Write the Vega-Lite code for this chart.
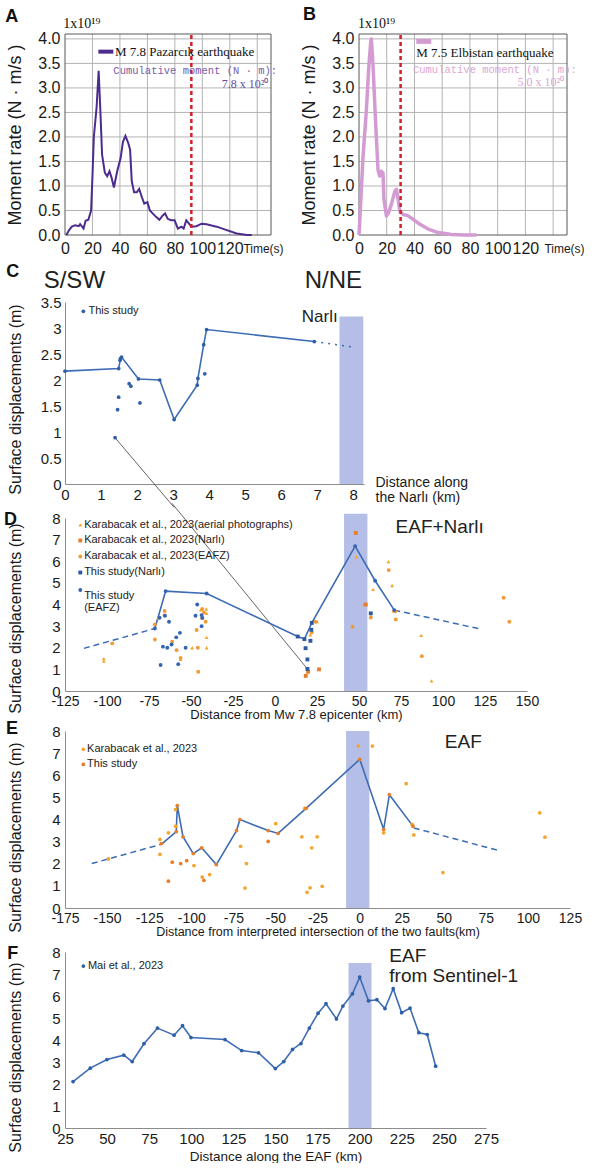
{
"$schema": "https://vega.github.io/schema/vega-lite/v6.json",
"background": "white",
"padding": {"left": 4, "top": 5, "right": 0, "bottom": 0},
"config": {
  "font": "Liberation Sans",
  "view": {"stroke": null},
  "axis": {"labelFont": "Liberation Sans", "titleFont": "Liberation Sans", "titleFontWeight": "normal", "labelColor": "#1a1a1a", "titleColor": "#1a1a1a", "domainColor": "#8c8c8c", "tickColor": "#8c8c8c", "ticks": false, "grid": false, "labelOverlap": false, "labelSeparation": -40, "labelFlush": false, "labelBound": false},
  "text": {"font": "Liberation Sans"}
},
"spacing": 6,
"vconcat": [
 {"hconcat": [
  {"width": 206, "height": 201,
   "encoding": {
     "x": {"field": "x", "type": "quantitative", "scale": {"domain": [0,150], "nice": false, "zero": false},
           "axis": {"values": [0,20,40,60,80,100,120], "labelOverlap": false, "labelSeparation": -40, "grid": false, "domain": false, "labelFontSize": 16, "labelPadding": 5, "title": "Time(s)", "titleFontSize": 12, "titleX": 198, "titleY": 13, "titleBaseline": "middle", "titleAlign": "center"}},
     "y": {"field": "y", "type": "quantitative", "scale": {"domain": [0,4.1], "nice": false},
           "axis": {"values": [0,0.5,1,1.5,2,2.5,3,3.5,4], "format": ".1f", "labelOverlap": false, "labelSeparation": -40, "grid": false, "domain": false, "labelFontSize": 16, "labelPadding": 5, "title": "Moment rate (N · m/s )", "titleFontSize": 18, "titleX": -41}}},
   "layer": [
    {"data": {"values": [{"x":20,"y":0,"y2":4.1},{"x":40,"y":0,"y2":4.1},{"x":60,"y":0,"y2":4.1},{"x":80,"y":0,"y2":4.1},{"x":100,"y":0,"y2":4.1},{"x":120,"y":0,"y2":4.1},{"x":140,"y":0,"y2":4.1}]},
     "mark": {"type": "rule", "color": "#b3b3b3", "strokeWidth": 1},
     "encoding": {"y2": {"field": "y2"}}},
    {"data": {"values": [{"x":0,"x2":150,"y":0.5},{"x":0,"x2":150,"y":1},{"x":0,"x2":150,"y":1.5},{"x":0,"x2":150,"y":2},{"x":0,"x2":150,"y":2.5},{"x":0,"x2":150,"y":3},{"x":0,"x2":150,"y":3.5},{"x":0,"x2":150,"y":4}]},
     "mark": {"type": "rule", "color": "#b3b3b3", "strokeWidth": 1},
     "encoding": {"x2": {"field": "x2"}}},
    {"data": {"values": [{"x":0,"x2":150,"y":0,"y2":4.1}]},
     "mark": {"type": "rect", "fill": null, "fillOpacity": 0, "stroke": "#595959", "strokeWidth": 1},
     "encoding": {"x2": {"field": "x2"}, "y2": {"field": "y2"}}},
    {"data": {"values": [
      {"x":1,"y":0},{"x":3,"y":0.1},{"x":5,"y":0.17},{"x":7.4,"y":0.2},{"x":10,"y":0.18},{"x":11,"y":0.22},{"x":13.5,"y":0.13},{"x":15,"y":0.29},{"x":17,"y":0.31},{"x":19,"y":0.5},{"x":20,"y":1.2},{"x":21,"y":2.0},{"x":23,"y":2.6},{"x":24.5,"y":3.35},{"x":25.8,"y":2.5},{"x":27,"y":1.64},{"x":29,"y":1.27},{"x":30.7,"y":1.2},{"x":32.4,"y":1.3},{"x":33.9,"y":1.17},{"x":35.6,"y":0.97},{"x":38,"y":1.3},{"x":40.5,"y":1.57},{"x":42.2,"y":1.9},{"x":44,"y":2.02},{"x":46,"y":1.88},{"x":47.4,"y":1.74},{"x":48.6,"y":1.1},{"x":50.3,"y":0.87},{"x":52.3,"y":0.87},{"x":54,"y":0.94},{"x":56,"y":0.77},{"x":57.7,"y":0.64},{"x":60,"y":0.67},{"x":61.8,"y":0.5},{"x":63.8,"y":0.44},{"x":66.3,"y":0.37},{"x":68.7,"y":0.31},{"x":71.2,"y":0.4},{"x":72.9,"y":0.44},{"x":74.8,"y":0.33},{"x":77.3,"y":0.3},{"x":79.8,"y":0.3},{"x":82.2,"y":0.13},{"x":84.7,"y":0.17},{"x":86.4,"y":0.13},{"x":88.3,"y":0.3},{"x":90.3,"y":0.23},{"x":92,"y":0.17},{"x":95.7,"y":0.18},{"x":99.4,"y":0.23},{"x":103,"y":0.22},{"x":110.4,"y":0.17},{"x":117.8,"y":0.1},{"x":125,"y":0.03},{"x":132.5,"y":0},{"x":136,"y":0}]},
     "mark": {"type": "line", "color": "#4b2c8e", "strokeWidth": 2}},
    {"data": {"values": [{"x": 92, "y": 0, "y2": 4.1}]},
     "mark": {"type": "rule", "color": "#d1202a", "strokeDash": [4,3], "strokeWidth": 2.5},
     "encoding": {"y2": {"field": "y2"}}},
    {"data": {"values": [{"x": 24.3, "x2": 35.2, "y": 3.74}]},
     "mark": {"type": "rule", "color": "#4b2c8e", "strokeWidth": 4},
     "encoding": {"x2": {"field": "x2"}}},
    {"data": {"values": [{"x": 36.4, "y": 3.74, "label": "M  7.8 Pazarcık earthquake"}]},
     "mark": {"type": "text", "font": "Liberation Serif", "fontSize": 13, "align": "left", "baseline": "middle", "color": "#111"},
     "encoding": {"text": {"field": "label"}}},
    {"data": {"values": [{"x": 35.2, "y": 3.35, "label": "Cumulative moment (N · m):"}]},
     "mark": {"type": "text", "font": "Liberation Mono", "fontSize": 10.5, "align": "left", "baseline": "middle", "color": "#7b5ba6"},
     "encoding": {"text": {"field": "label"}}},
    {"data": {"values": [{"x": 148, "y": 3.09, "label": "7.8 x 10²⁰"}]},
     "mark": {"type": "text", "font": "Liberation Serif", "fontSize": 12, "align": "right", "baseline": "middle", "color": "#6a4a9c"},
     "encoding": {"text": {"field": "label"}}},
    {"data": {"values": [{"x": -1.2, "y": 4.22, "label": "1x10¹⁹"}]},
     "mark": {"type": "text", "font": "Liberation Serif", "fontSize": 14, "align": "left", "baseline": "alphabetic", "color": "#111"},
     "encoding": {"text": {"field": "label"}}},
    {"data": {"values": [{"x": -43.5, "y": 4.34, "label": "A"}]},
     "mark": {"type": "text", "fontSize": 18, "fontWeight": "bold", "align": "left", "baseline": "alphabetic", "color": "#111"},
     "encoding": {"text": {"field": "label"}}}
   ]},
  {"width": 208, "height": 201,
   "encoding": {
     "x": {"field": "x", "type": "quantitative", "scale": {"domain": [0,150], "nice": false, "zero": false},
           "axis": {"values": [0,20,40,60,80,100,120], "labelOverlap": false, "labelSeparation": -40, "grid": false, "domain": false, "labelFontSize": 16, "labelPadding": 5, "title": "Time(s)", "titleFontSize": 12, "titleX": 205, "titleY": 13, "titleBaseline": "middle", "titleAlign": "center"}},
     "y": {"field": "y", "type": "quantitative", "scale": {"domain": [0,4.1], "nice": false},
           "axis": {"values": [0,0.5,1,1.5,2,2.5,3,3.5,4], "format": ".1f", "labelOverlap": false, "labelSeparation": -40, "grid": false, "domain": false, "labelFontSize": 16, "labelPadding": 5, "title": "Moment rate (N · m/s )", "titleFontSize": 18, "titleX": -41}}},
   "layer": [
    {"data": {"values": [{"x":20,"y":0,"y2":4.1},{"x":40,"y":0,"y2":4.1},{"x":60,"y":0,"y2":4.1},{"x":80,"y":0,"y2":4.1},{"x":100,"y":0,"y2":4.1},{"x":120,"y":0,"y2":4.1},{"x":140,"y":0,"y2":4.1}]},
     "mark": {"type": "rule", "color": "#b3b3b3", "strokeWidth": 1},
     "encoding": {"y2": {"field": "y2"}}},
    {"data": {"values": [{"x":0,"x2":150,"y":0.5},{"x":0,"x2":150,"y":1},{"x":0,"x2":150,"y":1.5},{"x":0,"x2":150,"y":2},{"x":0,"x2":150,"y":2.5},{"x":0,"x2":150,"y":3},{"x":0,"x2":150,"y":3.5},{"x":0,"x2":150,"y":4}]},
     "mark": {"type": "rule", "color": "#b3b3b3", "strokeWidth": 1},
     "encoding": {"x2": {"field": "x2"}}},
    {"data": {"values": [{"x":0,"x2":150,"y":0,"y2":4.1}]},
     "mark": {"type": "rect", "fill": null, "fillOpacity": 0, "stroke": "#595959", "strokeWidth": 1},
     "encoding": {"x2": {"field": "x2"}, "y2": {"field": "y2"}}},
    {"data": {"values": [
      {"x":0,"y":0},{"x":0.5,"y":0.26},{"x":2.9,"y":1.6},{"x":5.3,"y":2.54},{"x":7,"y":3.4},{"x":8.4,"y":3.92},{"x":8.9,"y":4.0},{"x":10.1,"y":3.48},{"x":11.8,"y":2.4},{"x":13.7,"y":1.33},{"x":14.9,"y":1.2},{"x":16.1,"y":1.3},{"x":17.3,"y":1.26},{"x":18,"y":0.73},{"x":19.8,"y":0.39},{"x":21.4,"y":0.46},{"x":23.4,"y":0.63},{"x":25.8,"y":0.89},{"x":27,"y":0.93},{"x":28.2,"y":0.73},{"x":29.4,"y":0.49},{"x":31.8,"y":0.42},{"x":35.4,"y":0.39},{"x":39,"y":0.32},{"x":43.9,"y":0.22},{"x":49.9,"y":0.12},{"x":57.1,"y":0.05},{"x":66.7,"y":0.01},{"x":76.4,"y":0},{"x":84.8,"y":0}]},
     "mark": {"type": "line", "color": "#d49bd2", "strokeWidth": 3.5, "strokeJoin": "round"}},
    {"data": {"values": [{"x": 30, "y": 0, "y2": 4.1}]},
     "mark": {"type": "rule", "color": "#d1202a", "strokeDash": [4,3], "strokeWidth": 2.5},
     "encoding": {"y2": {"field": "y2"}}},
    {"data": {"values": [{"x": 41.3, "x2": 52.1, "y": 3.95}]},
     "mark": {"type": "rule", "color": "#d49bd2", "strokeWidth": 5},
     "encoding": {"x2": {"field": "x2"}}},
    {"data": {"values": [{"x": 41.3, "y": 3.71, "label": "M  7.5 Elbistan earthquake"}]},
     "mark": {"type": "text", "font": "Liberation Serif", "fontSize": 13, "align": "left", "baseline": "middle", "color": "#111"},
     "encoding": {"text": {"field": "label"}}},
    {"data": {"values": [{"x": 38.9, "y": 3.36, "label": "Cumulative moment (N · m):"}]},
     "mark": {"type": "text", "font": "Liberation Mono", "fontSize": 10.5, "align": "left", "baseline": "middle", "color": "#dba6d5"},
     "encoding": {"text": {"field": "label"}}},
    {"data": {"values": [{"x": 148, "y": 3.12, "label": "5.0 x 10²⁰"}]},
     "mark": {"type": "text", "font": "Liberation Serif", "fontSize": 12, "align": "right", "baseline": "middle", "color": "#dba6d5"},
     "encoding": {"text": {"field": "label"}}},
    {"data": {"values": [{"x": -0.7, "y": 4.22, "label": "1x10¹⁹"}]},
     "mark": {"type": "text", "font": "Liberation Serif", "fontSize": 14, "align": "left", "baseline": "alphabetic", "color": "#111"},
     "encoding": {"text": {"field": "label"}}},
    {"data": {"values": [{"x": -40.3, "y": 4.39, "label": "B"}]},
     "mark": {"type": "text", "fontSize": 18, "fontWeight": "bold", "align": "left", "baseline": "alphabetic", "color": "#111"},
     "encoding": {"text": {"field": "label"}}}
   ]}
 ], "spacing": 15},
 {"vconcat": [
  {"width": 299, "height": 182,
   "encoding": {
     "x": {"field": "x", "type": "quantitative", "scale": {"domain": [0,8.3], "nice": false, "zero": false},
           "axis": {"values": [0,1,2,3,4,5,6,7,8], "labelOverlap": false, "labelSeparation": -40, "labelFontSize": 15, "labelPadding": 3, "title": ["Distance along", "the Narlı (km)"], "titleFontSize": 14, "titleX": 310, "titleY": -9, "titleAlign": "left", "titleBaseline": "top", "titleLineHeight": 15}},
     "y": {"field": "y", "type": "quantitative", "scale": {"domain": [0,3.5], "nice": false},
           "axis": {"values": [0,0.5,1,1.5,2,2.5,3,3.5], "labelOverlap": false, "labelSeparation": -40, "format": "~g", "labelFontSize": 15, "labelPadding": 4, "title": "Surface displacements (m)", "titleFontSize": 16, "titleX": -42, "titleY": 97}}},
   "layer": [
    {"data": {"values": [{"x": 7.62, "x2": 8.28, "y": 0, "y2": 3.22}]},
     "mark": {"type": "rect", "color": "#b4bee6"},
     "encoding": {"x2": {"field": "x2"}, "y2": {"field": "y2"}}},
    {"data": {"values": [{"x": 1.39, "y": 0.89}, {"x": 3.03, "y": -0.45}]},
     "mark": {"type": "line", "color": "#222", "strokeWidth": 0.7}},
    {"data": {"values": [{"x": 6.92, "y": 2.74}, {"x": 8.03, "y": 2.63}]},
     "mark": {"type": "line", "color": "#3d6cb5", "strokeWidth": 1.5, "strokeDash": [2,5]}},
    {"data": {"values": [{"x":0,"y":2.17},{"x":1.49,"y":2.22},{"x":1.54,"y":2.41},{"x":1.57,"y":2.44},{"x":2.04,"y":2.02},{"x":2.63,"y":2.0},{"x":3.03,"y":1.24},{"x":3.67,"y":1.9},{"x":3.69,"y":2.03},{"x":3.85,"y":2.68},{"x":3.93,"y":2.97},{"x":6.92,"y":2.74}]},
     "mark": {"type": "line", "color": "#3d6cb5", "strokeWidth": 1.6, "point": {"filled": true, "size": 14, "color": "#2f5fa8"}}},
    {"data": {"values": [{"x":1.49,"y":1.67},{"x":1.46,"y":1.43},{"x":1.39,"y":0.89},{"x":1.78,"y":1.93},{"x":1.83,"y":1.88},{"x":2.08,"y":1.56},{"x":3.88,"y":2.12},{"x":1.53,"y":2.38},{"x":0.51,"y":3.32}]},
     "mark": {"type": "point", "filled": true, "size": 14, "color": "#2f5fa8", "opacity": 1}},
    {"data": {"values": [{"x": 0.65, "y": 3.32, "label": "This study"}]},
     "mark": {"type": "text", "fontSize": 11, "align": "left", "baseline": "middle", "color": "#222"},
     "encoding": {"text": {"field": "label"}}},
    {"data": {"values": [{"x": 0.26, "y": 3.76, "label": "S/SW"}, {"x": 7.45, "y": 3.76, "label": "N/NE"}]},
     "mark": {"type": "text", "fontSize": 24, "align": "center", "baseline": "alphabetic", "color": "#222"},
     "encoding": {"text": {"field": "label"}}},
    {"data": {"values": [{"x": 7.07, "y": 3.12, "label": "Narlı"}]},
     "mark": {"type": "text", "fontSize": 17, "align": "center", "baseline": "alphabetic", "color": "#222"},
     "encoding": {"text": {"field": "label"}}},
    {"data": {"values": [{"x": -1.63, "y": 3.99, "label": "C"}]},
     "mark": {"type": "text", "fontSize": 18, "fontWeight": "bold", "align": "left", "baseline": "alphabetic", "color": "#111"},
     "encoding": {"text": {"field": "label"}}}
   ]},
  {"vconcat": [
   {"width": 462, "height": 173,
    "encoding": {
      "x": {"field": "x", "type": "quantitative", "scale": {"domain": [-125,150], "nice": false, "zero": false},
            "axis": {"values": [-125,-100,-75,-50,-25,0,25,50,75,100,125,150], "labelOverlap": false, "labelSeparation": -40, "labelExpr": "datum.value + ''", "labelFontSize": 14, "labelPadding": 3, "title": "Distance from Mw 7.8 epicenter (km)", "titleFontSize": 13, "titleY": 23, "titleBaseline": "middle"}},
      "y": {"field": "y", "type": "quantitative", "scale": {"domain": [0,8], "nice": false},
            "axis": {"values": [0,1,2,3,4,5,6,7,8], "labelOverlap": false, "labelSeparation": -40, "labelFontSize": 15, "labelPadding": 5, "title": "Surface displacements (m)", "titleFontSize": 16, "titleX": -42, "titleY": 100}}},
    "layer": [
     {"data": {"values": [{"x": 41.1, "x2": 55.0, "y": 0, "y2": 8.2}]},
      "mark": {"type": "rect", "color": "#b4bee6"},
      "encoding": {"x2": {"field": "x2"}, "y2": {"field": "y2"}}},
     {"data": {"values": [{"x": -61.3, "y": 8.68}, {"x": 19.3, "y": 1.02}]},
      "mark": {"type": "line", "color": "#222", "strokeWidth": 0.7}},
     {"data": {"values": [{"x": -113.8, "y": 1.97, "g": 1}, {"x": -71.5, "y": 2.89, "g": 1}, {"x": 71.0, "y": 3.74, "g": 2}, {"x": 122.6, "y": 2.86, "g": 2}]},
      "mark": {"type": "line", "color": "#3d6cb5", "strokeWidth": 1.5, "strokeDash": [6,4]},
      "encoding": {"detail": {"field": "g"}}},
     {"data": {"values": [{"x":-71.5,"y":2.89},{"x":-65.1,"y":4.62},{"x":-40.7,"y":4.51},{"x":13.5,"y":2.52},{"x":17.5,"y":2.40},{"x":21.9,"y":3.15},{"x":47.7,"y":6.70},{"x":59.6,"y":5.10},{"x":71.0,"y":3.74}]},
      "mark": {"type": "line", "color": "#3d6cb5", "strokeWidth": 1.6}},
     {"data": {"values": [
       {"x":-101.9,"y":1.5,"s":"KA"},{"x":-101.9,"y":1.38,"s":"KA"},{"x":-69.5,"y":3.38,"s":"KA"},{"x":-61.2,"y":2.2,"s":"KA"},{"x":-56.2,"y":1.46,"s":"KA"},{"x":-49.3,"y":2.0,"s":"KA"},{"x":-40.9,"y":3.79,"s":"KA"},{"x":-40.7,"y":3.59,"s":"KA"},{"x":-40.7,"y":2.48,"s":"KA"},{"x":-40.7,"y":2.0,"s":"KA"},{"x":-44.2,"y":3.75,"s":"KA"},{"x":25.0,"y":3.21,"s":"KA"},{"x":21.0,"y":2.6,"s":"KA"},{"x":48.5,"y":6.21,"s":"KA"},{"x":53.0,"y":4.0,"s":"KA"},{"x":58.4,"y":4.70,"s":"KA"},{"x":67.5,"y":5.98,"s":"KA"},{"x":69.7,"y":4.88,"s":"KA"},{"x":70.5,"y":3.71,"s":"KA"},{"x":87.0,"y":2.57,"s":"KA"},{"x":93.2,"y":0.47,"s":"KA"},
       {"x":48.1,"y":7.31,"s":"KN"},{"x":54.0,"y":4.0,"s":"KN"},{"x":19.7,"y":0.89,"s":"KN"},{"x":18.3,"y":0.70,"s":"KN"},{"x":26.2,"y":1.0,"s":"KN"},
       {"x":-96.9,"y":2.2,"s":"KE"},{"x":-71.5,"y":3.08,"s":"KE"},{"x":-71.5,"y":2.38,"s":"KE"},{"x":-65.7,"y":3.70,"s":"KE"},{"x":-65.7,"y":3.5,"s":"KE"},{"x":-61.2,"y":2.28,"s":"KE"},{"x":-58.6,"y":1.89,"s":"KE"},{"x":-56.2,"y":1.53,"s":"KE"},{"x":-45.9,"y":2.0,"s":"KE"},{"x":-46.7,"y":2.82,"s":"KE"},{"x":-45.7,"y":0.89,"s":"KE"},{"x":-43.3,"y":3.79,"s":"KE"},{"x":-42.3,"y":3.63,"s":"KE"},{"x":-41.3,"y":3.2,"s":"KE"},{"x":-43.3,"y":3.36,"s":"KE"},{"x":24.2,"y":3.2,"s":"KE"},{"x":21.9,"y":2.71,"s":"KE"},{"x":46.1,"y":2.97,"s":"KE"},{"x":57.0,"y":3.40,"s":"KE"},{"x":67.7,"y":5.59,"s":"KE"},{"x":71.9,"y":3.31,"s":"KE"},{"x":87.4,"y":1.61,"s":"KE"},{"x":136.1,"y":4.31,"s":"KE"},{"x":139.5,"y":3.2,"s":"KE"},{"x":71.5,"y":3.68,"s":"KE"},
       {"x":13.5,"y":2.52,"s":"TN"},{"x":17.5,"y":2.40,"s":"TN"},{"x":18.2,"y":1.98,"s":"TN"},{"x":19.3,"y":1.46,"s":"TN"},{"x":19.3,"y":1.02,"s":"TN"},{"x":21.1,"y":2.32,"s":"TN"},{"x":21.6,"y":2.83,"s":"TN"},{"x":21.9,"y":3.15,"s":"TN"},{"x":57.0,"y":3.59,"s":"TN"},
       {"x":-71.5,"y":2.89,"s":"TE"},{"x":-68.7,"y":3.39,"s":"TE"},{"x":-65.5,"y":3.48,"s":"TE"},{"x":-65.1,"y":4.62,"s":"TE"},{"x":-63.1,"y":3.2,"s":"TE"},{"x":-66.7,"y":2.05,"s":"TE"},{"x":-64.1,"y":2.0,"s":"TE"},{"x":-61.6,"y":2.15,"s":"TE"},{"x":-58.8,"y":2.48,"s":"TE"},{"x":-56.6,"y":2.69,"s":"TE"},{"x":-53.2,"y":2.0,"s":"TE"},{"x":-68.1,"y":1.2,"s":"TE"},{"x":-57.6,"y":1.24,"s":"TE"},{"x":-47.3,"y":3.48,"s":"TE"},{"x":-46.3,"y":4.0,"s":"TE"},{"x":-43.7,"y":3.51,"s":"TE"},{"x":-43.3,"y":3.39,"s":"TE"},{"x":-43.7,"y":3.0,"s":"TE"},{"x":-40.7,"y":4.51,"s":"TE"},{"x":47.7,"y":6.70,"s":"TE"},{"x":59.6,"y":5.10,"s":"TE"},{"x":71.0,"y":3.74,"s":"TE"},
       {"x":-115.9,"y":7.68,"s":"KA"},{"x":-115.9,"y":6.96,"s":"KN"},{"x":-115.9,"y":6.22,"s":"KE"},{"x":-115.9,"y":5.48,"s":"TN"},{"x":-115.9,"y":4.67,"s":"TE"}]},
      "mark": {"type": "point", "filled": true, "size": 15, "opacity": 1},
      "encoding": {
        "color": {"field": "s", "type": "nominal", "scale": {"domain": ["KA","KN","KE","TN","TE"], "range": ["#f5a52e","#e67e2b","#f29a3a","#2b5aa3","#3465b0"]}, "legend": null},
        "shape": {"field": "s", "type": "nominal", "scale": {"domain": ["KA","KN","KE","TN","TE"], "range": ["triangle-up","square","circle","square","circle"]}, "legend": null}}},
     {"data": {"values": [{"x": -113.6, "y": 7.68, "label": "Karabacak et al., 2023(aerial photographs)"}, {"x": -113.6, "y": 6.96, "label": "Karabacak et al., 2023(Narlı)"}, {"x": -113.6, "y": 6.22, "label": "Karabacak et al., 2023(EAFZ)"}, {"x": -113.6, "y": 5.48, "label": "This study(Narlı)"}, {"x": -113.6, "y": 4.40, "label": "This study\n(EAFZ)"}]},
      "mark": {"type": "text", "fontSize": 11, "align": "left", "baseline": "middle", "color": "#222", "lineBreak": "\n", "lineHeight": 12},
      "encoding": {"text": {"field": "label"}}},
     {"data": {"values": [{"x": 98, "y": 7.29, "label": "EAF+Narlı"}]},
      "mark": {"type": "text", "fontSize": 19, "align": "center", "baseline": "alphabetic", "color": "#222"},
      "encoding": {"text": {"field": "label"}}},
     {"data": {"values": [{"x": -161.3, "y": 7.66, "label": "D"}]},
      "mark": {"type": "text", "fontSize": 18, "fontWeight": "bold", "align": "left", "baseline": "alphabetic", "color": "#111"},
      "encoding": {"text": {"field": "label"}}}
    ]},
   {"vconcat": [
    {"width": 505, "height": 177,
     "encoding": {
       "x": {"field": "x", "type": "quantitative", "scale": {"domain": [-175,125], "nice": false, "zero": false},
             "axis": {"values": [-175,-150,-125,-100,-75,-50,-25,0,25,50,75,100,125], "labelOverlap": false, "labelSeparation": -40, "labelExpr": "datum.value + ''", "labelFontSize": 14, "labelPadding": 3, "title": "Distance from interpreted intersection of the two faults(km)", "titleFontSize": 12.5, "titleY": 23, "titleBaseline": "middle"}},
       "y": {"field": "y", "type": "quantitative", "scale": {"domain": [0,8], "nice": false},
             "axis": {"values": [0,1,2,3,4,5,6,7,8], "labelOverlap": false, "labelSeparation": -40, "labelFontSize": 15, "labelPadding": 5, "title": "Surface displacements (m)", "titleFontSize": 16, "titleX": -42, "titleY": 106}}},
     "layer": [
      {"data": {"values": [{"x": -8.0, "x2": 5.8, "y": 0, "y2": 8.0}]},
       "mark": {"type": "rect", "color": "#b4bee6"},
       "encoding": {"x2": {"field": "x2"}, "y2": {"field": "y2"}}},
      {"data": {"values": [{"x": -159.1, "y": 2.01, "g": 1}, {"x": -117.8, "y": 2.88, "g": 1}, {"x": 32.2, "y": 3.62, "g": 2}, {"x": 82.0, "y": 2.61, "g": 2}]},
       "mark": {"type": "line", "color": "#3d6cb5", "strokeWidth": 1.5, "strokeDash": [6,4]},
       "encoding": {"detail": {"field": "g"}}},
      {"data": {"values": [{"x":-117.8,"y":2.88},{"x":-108.9,"y":3.45},{"x":-108.3,"y":4.63},{"x":-104.9,"y":3.22},{"x":-98.8,"y":2.46},{"x":-93.8,"y":2.72},{"x":-85.1,"y":1.96},{"x":-73.1,"y":3.50},{"x":-71.1,"y":4.0},{"x":-54.3,"y":3.50},{"x":-48.4,"y":3.37},{"x":-31.8,"y":4.5},{"x":0.1,"y":6.72},{"x":14.3,"y":3.55},{"x":17.7,"y":5.12},{"x":31.7,"y":3.70}]},
       "mark": {"type": "line", "color": "#3d6cb5", "strokeWidth": 1.6}},
      {"data": {"values": [
        {"x":-149.2,"y":2.22,"s":"K"},{"x":-118.6,"y":3.1,"s":"K"},{"x":-118.6,"y":2.42,"s":"K"},{"x":-113.6,"y":3.4,"s":"K"},{"x":-109.3,"y":4.45,"s":"K"},{"x":-109.3,"y":3.70,"s":"K"},{"x":-98.4,"y":1.92,"s":"K"},{"x":-93.5,"y":1.40,"s":"K"},{"x":-89.1,"y":1.51,"s":"K"},{"x":-70.7,"y":2.79,"s":"K"},{"x":-67.2,"y":2.01,"s":"K"},{"x":-68.1,"y":0.9,"s":"K"},{"x":-49.8,"y":3.81,"s":"K"},{"x":-32.6,"y":4.5,"s":"K"},{"x":-34.3,"y":3.22,"s":"K"},{"x":-28.4,"y":2.72,"s":"K"},{"x":-25.2,"y":3.22,"s":"K"},{"x":-31.2,"y":0.71,"s":"K"},{"x":-29.4,"y":0.91,"s":"K"},{"x":-22.2,"y":0.98,"s":"K"},{"x":-0.7,"y":7.32,"s":"K"},{"x":7.6,"y":7.32,"s":"K"},{"x":14.3,"y":3.40,"s":"K"},{"x":27.7,"y":5.62,"s":"K"},{"x":31.2,"y":3.78,"s":"K"},{"x":32.2,"y":3.30,"s":"K"},{"x":49.5,"y":1.60,"s":"K"},{"x":107.0,"y":4.30,"s":"K"},{"x":110.1,"y":3.20,"s":"K"},
        {"x":-117.8,"y":2.91,"s":"T"},{"x":-108.9,"y":3.45,"s":"T"},{"x":-108.3,"y":4.63,"s":"T"},{"x":-104.9,"y":3.22,"s":"T"},{"x":-98.8,"y":2.46,"s":"T"},{"x":-93.8,"y":2.72,"s":"T"},{"x":-85.1,"y":1.96,"s":"T"},{"x":-73.1,"y":3.50,"s":"T"},{"x":-71.1,"y":4.0,"s":"T"},{"x":-54.3,"y":3.50,"s":"T"},{"x":-48.4,"y":3.37,"s":"T"},{"x":-31.8,"y":4.5,"s":"T"},{"x":0.1,"y":6.72,"s":"T"},{"x":14.3,"y":3.55,"s":"T"},{"x":17.7,"y":5.12,"s":"T"},{"x":31.7,"y":3.70,"s":"T"},
        {"x":-111.3,"y":2.07,"s":"T"},{"x":-113.6,"y":1.21,"s":"T"},{"x":-106.3,"y":2.01,"s":"T"},{"x":-102.7,"y":2.14,"s":"T"},{"x":-92.5,"y":1.25,"s":"T"},{"x":-54.3,"y":3.01,"s":"T"},
        {"x":-164.1,"y":7.17,"s":"K"},{"x":-164.1,"y":6.49,"s":"T"}]},
       "mark": {"type": "point", "filled": true, "size": 14, "opacity": 1},
       "encoding": {"color": {"field": "s", "type": "nominal", "scale": {"domain": ["K","T"], "range": ["#f29a3a","#2f5fa8"]}, "legend": null}}},
      {"data": {"values": [{"x": -161.9, "y": 7.17, "label": "Karabacak et al., 2023"}, {"x": -161.9, "y": 6.49, "label": "This study"}]},
       "mark": {"type": "text", "fontSize": 11, "align": "left", "baseline": "middle", "color": "#222"},
       "encoding": {"text": {"field": "label"}}},
      {"data": {"values": [{"x": 61.6, "y": 7.24, "label": "EAF"}]},
       "mark": {"type": "text", "fontSize": 19, "align": "center", "baseline": "alphabetic", "color": "#222"},
       "encoding": {"text": {"field": "label"}}},
      {"data": {"values": [{"x": -210, "y": 7.86, "label": "E"}]},
       "mark": {"type": "text", "fontSize": 18, "fontWeight": "bold", "align": "left", "baseline": "alphabetic", "color": "#111"},
       "encoding": {"text": {"field": "label"}}}
     ]},
    {"width": 421, "height": 176,
     "encoding": {
       "x": {"field": "x", "type": "quantitative", "scale": {"domain": [25,275], "nice": false, "zero": false},
             "axis": {"values": [25,50,75,100,125,150,175,200,225,250,275], "labelOverlap": false, "labelSeparation": -40, "labelFontSize": 15, "labelPadding": 3, "title": "Distance along the  EAF (km)", "titleFontSize": 13.5, "titleY": 28, "titleBaseline": "middle"}},
       "y": {"field": "y", "type": "quantitative", "scale": {"domain": [0,8], "nice": false},
             "axis": {"values": [0,1,2,3,4,5,6,7,8], "labelOverlap": false, "labelSeparation": -40, "labelFontSize": 15, "labelPadding": 5, "title": "Surface displacements (m)", "titleFontSize": 16, "titleX": -42, "titleY": 105}}},
     "layer": [
      {"data": {"values": [{"x": 193.4, "x2": 207.0, "y": 0, "y2": 7.5}]},
       "mark": {"type": "rect", "color": "#b4bee6"},
       "encoding": {"x2": {"field": "x2"}, "y2": {"field": "y2"}}},
      {"data": {"values": [
        {"x":29.8,"y":2.11},{"x":40.0,"y":2.72},{"x":49.9,"y":3.11},{"x":59.9,"y":3.31},{"x":64.9,"y":3.02},{"x":71.9,"y":3.83},{"x":79.9,"y":4.54},{"x":89.8,"y":4.22},{"x":94.8,"y":4.65},{"x":99.8,"y":4.11},{"x":120.0,"y":4.02},{"x":129.9,"y":3.52},{"x":139.9,"y":3.42},{"x":149.9,"y":2.70},{"x":154.9,"y":3.02},{"x":160.1,"y":3.57},{"x":165.1,"y":3.84},{"x":170.1,"y":4.54},{"x":175.3,"y":5.22},{"x":180.0,"y":5.65},{"x":186.2,"y":4.96},{"x":190.0,"y":5.54},{"x":195.7,"y":6.10},{"x":200.0,"y":6.86},{"x":205.2,"y":5.78},{"x":210.2,"y":5.83},{"x":215.0,"y":5.43},{"x":219.9,"y":6.33},{"x":224.9,"y":5.24},{"x":229.9,"y":5.45},{"x":235.1,"y":4.33},{"x":240.1,"y":4.25},{"x":245.1,"y":2.81}]},
       "mark": {"type": "line", "color": "#3d6cb5", "strokeWidth": 1.6, "point": {"filled": true, "size": 14, "color": "#2f5fa8"}}},
      {"data": {"values": [{"x": 35.9, "y": 7.36}]},
       "mark": {"type": "point", "filled": true, "size": 14, "color": "#2f5fa8", "opacity": 1}},
      {"data": {"values": [{"x": 38.6, "y": 7.36, "label": "Mai et al., 2023"}]},
       "mark": {"type": "text", "fontSize": 11, "align": "left", "baseline": "middle", "color": "#222"},
       "encoding": {"text": {"field": "label"}}},
      {"data": {"values": [{"x": 217.6, "y": 7.55, "label": "EAF"}, {"x": 217.6, "y": 6.63, "label": "from Sentinel-1"}]},
       "mark": {"type": "text", "fontSize": 19, "align": "left", "baseline": "alphabetic", "color": "#222"},
       "encoding": {"text": {"field": "label"}}},
      {"data": {"values": [{"x": -9.3, "y": 7.68, "label": "F"}]},
       "mark": {"type": "text", "fontSize": 18, "fontWeight": "bold", "align": "left", "baseline": "alphabetic", "color": "#111"},
       "encoding": {"text": {"field": "label"}}}
     ]}
   ], "spacing": 7}
  ], "spacing": -1}
 ], "spacing": -8}
]
}
